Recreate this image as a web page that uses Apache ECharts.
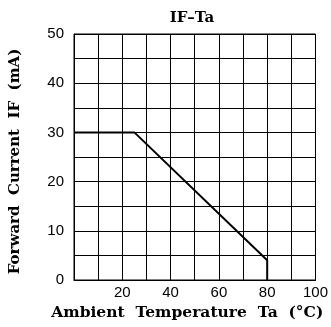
<!DOCTYPE html>
<html><head><meta charset="utf-8">
<script src="https://cdn.jsdelivr.net/npm/echarts@6/dist/echarts.min.js"></script>
<style>html,body{margin:0;padding:0;background:#fff}#c{width:331px;height:327px}</style>
</head><body><div id="c"></div>
<script>
var titleText = 'IF\u2013Ta';
var xName = 'Ambient  Temperature  Ta  (\u00b0C)';
var yName = 'Forward  Current  IF  (mA)';
var temps = [0, 25, 80, 80];
var currents = [30, 30, 4, 0];
var xTickLabels = [20, 40, 60, 80, 100];
var yTickLabels = [0, 10, 20, 30, 40, 50];

var chart = echarts.init(document.getElementById('c'));
var serif = 'DejaVu Serif';
chart.setOption({
  animation: false,
  title: {text: titleText, left: 187, top: 6, textAlign: 'center',
    textStyle: {fontFamily: serif, fontWeight: 'bold', fontSize: 15, color: '#000'}},
  grid: {left: 70, right: 15, top: 34, bottom: 47, show: true, borderColor: '#000', borderWidth: 1},
  xAxis: {type: 'value', min: 0, max: 100, interval: 10,
    name: xName, nameLocation: 'middle', nameGap: 25,
    nameTextStyle: {fontFamily: serif, fontWeight: 'bold', fontSize: 15.5, color: '#000', padding: [0, 15, 0, 0]},
    axisLine: {show: true, lineStyle: {color: '#000'}}, axisTick: {show: false},
    splitLine: {show: true, lineStyle: {color: '#000', width: 1}},
    axisLabel: {margin: 5, fontFamily: 'Liberation Sans', fontSize: 15, color: '#000',
      formatter: function(v){ return xTickLabels.indexOf(v) >= 0 ? String(v) : ''; }}},
  yAxis: {type: 'value', min: 0, max: 50, interval: 5,
    name: yName, nameLocation: 'middle', nameGap: 51,
    nameTextStyle: {fontFamily: serif, fontWeight: 'bold', fontSize: 15, color: '#000', padding: [0, 9, 0, 0]},
    axisLine: {show: true, lineStyle: {color: '#000'}}, axisTick: {show: false},
    splitLine: {show: true, lineStyle: {color: '#000', width: 1}},
    axisLabel: {margin: 10, fontFamily: 'Liberation Sans', fontSize: 15, color: '#000',
      formatter: function(v){ return yTickLabels.indexOf(v) >= 0 ? String(v) : ''; }}},
  series: [{type: 'line', data: temps.map(function(t, i){ return [t, currents[i]]; }),
    showSymbol: false, lineStyle: {color: '#000', width: 2}}]
});
</script></body></html>
